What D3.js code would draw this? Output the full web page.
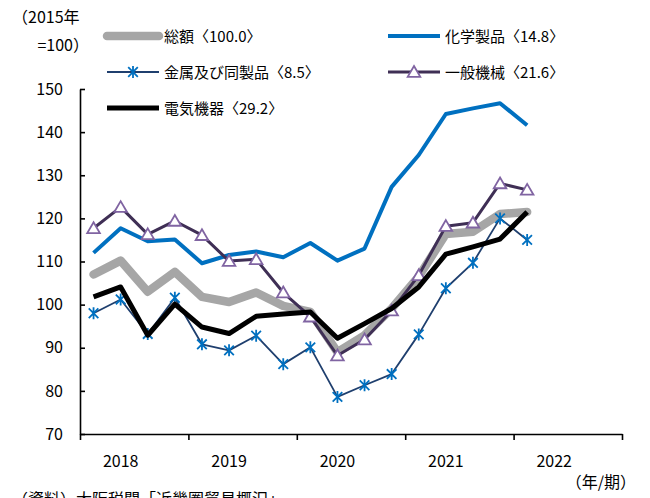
<!DOCTYPE html>
<html><head><meta charset="utf-8">
<script src="https://cdn.jsdelivr.net/npm/d3@7"></script>
<style>body{margin:0;background:#fff}svg{display:block}text{font-family:"Noto Sans CJK JP","Noto Sans",sans-serif;fill:#000}</style>
</head><body><svg id="c" width="650" height="498"></svg>
<script>
const quarters = d3.range(20).map(i => `${2018 + Math.floor(i/4)}Q${i%4+1}`);
const years = ["2018","2019","2020","2021","2022"];
const yTicks = [70,80,90,100,110,120,130,140,150];
const total    = [107.0,110.2,103.0,107.6,101.8,100.6,102.8,99.7,98.3,89.0,92.9,99.1,106.5,116.4,116.9,121.0,121.5];
const chemical = [112.0,117.7,114.7,115.1,109.6,111.5,112.3,111.0,114.3,110.2,113.0,127.3,134.7,144.2,145.5,146.7,141.6];
const metal    = [98.0,101.2,93.2,101.6,90.8,89.4,92.8,86.2,90.1,78.6,81.3,83.9,93.1,103.8,109.7,120.0,115.0];
const machine  = [117.7,122.6,116.3,119.4,116.1,110.1,110.5,102.8,97.2,88.2,91.9,98.6,106.8,118.2,119.0,128.1,126.6];
const electric = [101.8,104.1,92.9,100.1,94.8,93.3,97.3,97.8,98.3,92.2,95.6,99.1,104.1,111.7,113.4,115.2,121.5];
const legendNames = ["総額〈100.0〉","化学製品〈14.8〉","金属及び同製品〈8.5〉","一般機械〈21.6〉","電気機器〈29.2〉"];

const svg = d3.select("#c");
const x = d3.scaleBand().domain(quarters).range([80, 622]).paddingInner(0).paddingOuter(0);
const xl = d3.scaleLinear().domain([0, 20]).range([80, 622]);
const y = d3.scaleLinear().domain([70, 150]).range([434, 89]);
const cx = i => x(quarters[i]) + x.bandwidth()/2;

const series = [
  {name: legendNames[0], data: total, color: "#A6A6A6", w: 8.5},
  {name: legendNames[1], data: chemical, color: "#0070C0", w: 4},
  {name: legendNames[2], data: metal, color: "#1F3F6E", w: 1.8, marker: "star"},
  {name: legendNames[3], data: machine, color: "#3F2F55", w: 3, marker: "tri"},
  {name: legendNames[4], data: electric, color: "#000000", w: 5},
];

// axes
const yAxis = d3.axisLeft(y).tickValues(yTicks).tickSizeInner(-5).tickSizeOuter(0).tickPadding(17);
const gy = svg.append("g").attr("transform", "translate(80,0)").call(yAxis);
gy.selectAll("text").style("font-size", "16px").attr("font-family", "Liberation Sans, Arial, sans-serif");
const xAxis = d3.axisBottom(xl).tickValues([0,4,8,12,16,20]).tickFormat("").tickSizeInner(6).tickSizeOuter(0);
const gx = svg.append("g").attr("transform", "translate(0,434)").call(xAxis);
[gx, gy].forEach(g => { g.select(".domain").attr("stroke", "#000").attr("stroke-width", 1.6); g.selectAll(".tick line").attr("stroke", "#000").attr("stroke-width", 1.6); });

svg.append("g").selectAll("text").data(years).join("text")
  .attr("x", (d, i) => xl(i*4 + 1.5)).attr("y", 467).attr("text-anchor", "middle")
  .style("font-size", "16px").attr("font-family", "Liberation Sans, Arial, sans-serif").text(d => d);

const line = d3.line().x((d, i) => cx(i)).y(d => y(d));
const starPath = s => `M0,${-s}L0,${s}M${-s*0.8},${-s*0.8}L${s*0.8},${s*0.8}M${-s*0.8},${s*0.8}L${s*0.8},${-s*0.8}`;
const triPath = s => `M0,${-s}L${s*1.05},${s*0.8}L${-s*1.05},${s*0.8}Z`;

function drawMarker(g, type, px, py) {
  if (type === "star") g.append("path").attr("d", starPath(6)).attr("transform", `translate(${px},${py})`).attr("stroke", "#0070C0").attr("stroke-width", 1.8).attr("fill", "none");
  if (type === "tri") g.append("path").attr("d", triPath(6)).attr("transform", `translate(${px},${py})`).attr("stroke", "#8064A2").attr("stroke-width", 1.8).attr("fill", "#fff");
}

const plot = svg.append("g");
series.forEach(s => {
  const g = plot.append("g");
  g.append("path").datum(s.data).attr("d", line).attr("fill", "none").attr("stroke", s.color).attr("stroke-width", s.w).attr("stroke-linejoin", "round").attr("stroke-linecap", s.w > 6 ? "round" : "butt");
  if (s.marker) s.data.forEach((d, i) => drawMarker(g, s.marker, cx(i), y(d)));
});

// legend
const legPos = [[107,36],[388,36],[107,72],[388,72],[107,108]];
series.forEach((s, k) => {
  const [lx, ly] = legPos[k];
  const g = svg.append("g");
  g.append("line").attr("x1", lx).attr("x2", lx + 52).attr("y1", ly).attr("y2", ly).attr("stroke", s.color).attr("stroke-width", s.w).attr("stroke-linecap", s.w > 6 ? "round" : "butt");
  if (s.marker) drawMarker(g, s.marker, lx + 26, ly);
  g.append("text").attr("x", lx + 57).attr("y", ly + 5.5).style("font-size", "15px").text(s.name);
});

svg.append("text").attr("x", 12).attr("y", 23).style("font-size", "16px").text("（2015年");
svg.append("text").attr("x", 89).attr("y", 51).attr("text-anchor", "end").style("font-size", "16px").text("=100）");
svg.append("text").attr("x", 636).attr("y", 488).attr("text-anchor", "end").style("font-size", "16px").text("（年/期）");
svg.append("text").attr("x", 12).attr("y", 505).style("font-size", "16px").text("（資料）大阪税関「近畿圏貿易概況」");
</script></body></html>
